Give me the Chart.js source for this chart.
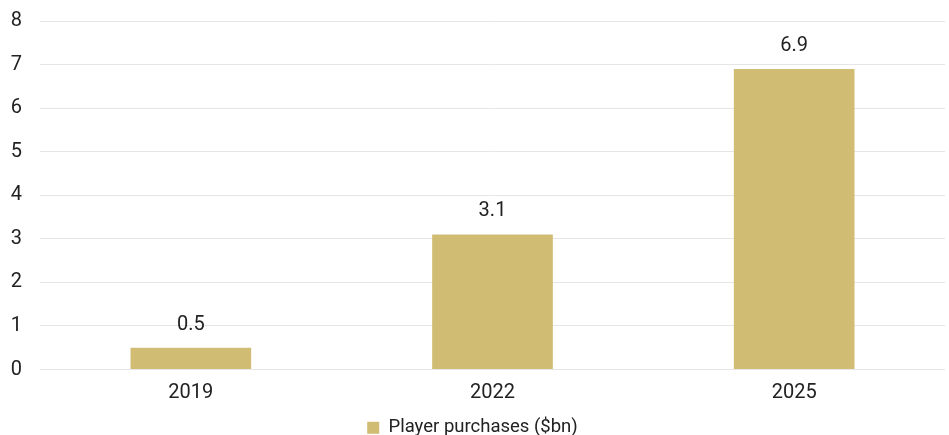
<!DOCTYPE html>
<html>
<head>
<meta charset="utf-8">
<script src="https://cdn.jsdelivr.net/npm/chart.js@4"></script>
<style>
  body { margin: 0; background: #fff; }
  #wrap { width: 949px; height: 435px; }
</style>
</head>
<body>
<div id="wrap"><canvas id="purchasesChart"></canvas></div>
<script>
const years = ['2019', '2022', '2025'];
const purchases = [0.5, 3.1, 6.9];
const seriesName = 'Player purchases ($bn)';

// value labels above each bar
const barLabels = {
    id: 'barLabels',
    afterDatasetsDraw(chart) {
        const ctx = chart.ctx;
        ctx.save();
        ctx.font = '20px Roboto';
        ctx.fillStyle = '#222';
        ctx.textAlign = 'center';
        ctx.textBaseline = 'middle';
        chart.getDatasetMeta(0).data.forEach((bar, i) => {
            ctx.fillText(purchases[i].toFixed(1), bar.x, bar.y - 23);
        });
        ctx.restore();
    }
};

function initChart() {
    const ctx = document.getElementById('purchasesChart').getContext('2d');
    Chart.defaults.font.family = 'Roboto';
    Chart.defaults.color = '#222';

    new Chart(ctx, {
        type: 'bar',
        data: {
            labels: years,
            datasets: [{
                label: seriesName,
                data: purchases,
                backgroundColor: '#D1BC73',
                borderWidth: 0,
                categoryPercentage: 1,
                barPercentage: 0.4
            }]
        },
        options: {
            responsive: true,
            maintainAspectRatio: false,
            animation: false,
            layout: { padding: { top: 21, right: 4, left: 0, bottom: -12 } },
            scales: {
                x: {
                    grid: { display: false },
                    border: { display: false },
                    ticks: { font: { size: 20 }, padding: 3 }
                },
                y: {
                    min: 0,
                    max: 8,
                    grid: { color: '#e6e6e6', drawTicks: false },
                    border: { display: false },
                    ticks: { stepSize: 1, font: { size: 20 }, padding: 18 },
                    afterFit(scale) {
                        scale.width = 40;
                        scale.paddingTop = 0;
                    }
                }
            },
            plugins: {
                legend: {
                    position: 'bottom',
                    labels: { boxWidth: 12, boxHeight: 12, font: { size: 18.5 }, padding: 11 }
                },
                tooltip: { enabled: false }
            }
        },
        plugins: [barLabels]
    });
}

document.addEventListener('DOMContentLoaded', initChart);
</script>
</body>
</html>
